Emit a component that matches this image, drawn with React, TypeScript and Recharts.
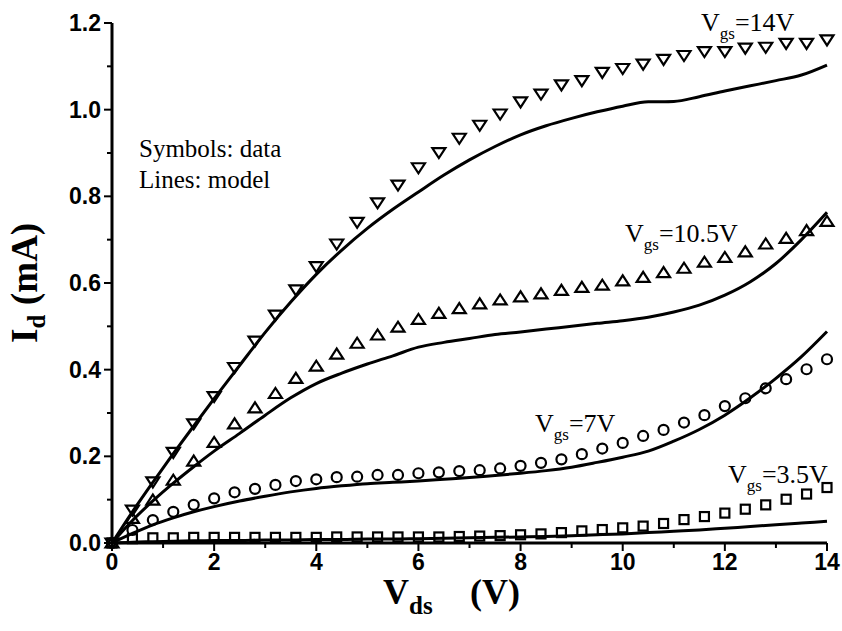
import React from 'react';
import { ComposedChart, Line, Scatter, XAxis, YAxis } from 'recharts';

// measured points (symbols), Vds step 0.4 V
const vdsData = [
  0, 0.4, 0.8, 1.2, 1.6, 2.0, 2.4, 2.8, 3.2, 3.6, 4.0, 4.4, 4.8, 5.2, 5.6, 6.0, 6.4, 6.8,
  7.2, 7.6, 8.0, 8.4, 8.8, 9.2, 9.6, 10.0, 10.4, 10.8, 11.2, 11.6, 12.0, 12.4, 12.8, 13.2, 13.6, 14.0,
];
const data35 = [
  0, 0.010, 0.012, 0.012, 0.013, 0.013, 0.013, 0.013, 0.013, 0.013, 0.013, 0.014, 0.014, 0.014, 0.014, 0.014, 0.014, 0.015,
  0.016, 0.017, 0.019, 0.021, 0.024, 0.028, 0.031, 0.035, 0.039, 0.045, 0.054, 0.061, 0.069, 0.078, 0.088, 0.101, 0.113, 0.128,
];
const data7 = [
  0, 0.030, 0.053, 0.072, 0.088, 0.103, 0.117, 0.125, 0.134, 0.143, 0.147, 0.152, 0.153, 0.157, 0.157, 0.161, 0.163, 0.166,
  0.168, 0.172, 0.178, 0.185, 0.193, 0.205, 0.218, 0.231, 0.247, 0.261, 0.278, 0.295, 0.316, 0.334, 0.357, 0.378, 0.401, 0.424,
];
const data105 = [
  0, 0.057, 0.099, 0.145, 0.189, 0.232, 0.275, 0.312, 0.345, 0.380, 0.408, 0.436, 0.461, 0.480, 0.498, 0.516, 0.530, 0.541,
  0.552, 0.561, 0.568, 0.575, 0.583, 0.590, 0.595, 0.605, 0.613, 0.624, 0.634, 0.648, 0.659, 0.672, 0.690, 0.703, 0.721, 0.742,
];
const data14 = [
  0, 0.076, 0.141, 0.209, 0.275, 0.338, 0.405, 0.466, 0.526, 0.584, 0.638, 0.690, 0.740, 0.785, 0.826, 0.866, 0.901, 0.934,
  0.964, 0.990, 1.018, 1.036, 1.057, 1.067, 1.086, 1.095, 1.105, 1.116, 1.125, 1.134, 1.134, 1.142, 1.144, 1.153, 1.153, 1.161,
];

// model curves (lines)
const vdsModel = [
  0, 0.4, 0.8, 1.2, 1.6, 2, 2.5, 3, 3.5, 4, 4.5, 5, 5.5, 6, 6.5, 7, 7.5, 8, 8.5, 9, 9.5, 10, 10.5, 11, 11.5, 12, 12.5, 13, 13.5, 14,
];
const model35 = [
  0, 0.002, 0.003, 0.004, 0.005, 0.006, 0.006, 0.007, 0.007, 0.008, 0.008, 0.009, 0.009, 0.010, 0.011,
  0.012, 0.013, 0.014, 0.015, 0.017, 0.019, 0.021, 0.024, 0.027, 0.030, 0.034, 0.038, 0.042, 0.046, 0.050,
];
const model7 = [
  0, 0.022, 0.042, 0.058, 0.072, 0.084, 0.097, 0.108, 0.118, 0.126, 0.132, 0.137, 0.140, 0.143, 0.147,
  0.151, 0.156, 0.161, 0.167, 0.175, 0.186, 0.198, 0.212, 0.235, 0.262, 0.295, 0.335, 0.380, 0.430, 0.488,
];
const model105 = [
  0, 0.052, 0.097, 0.138, 0.176, 0.212, 0.253, 0.295, 0.335, 0.368, 0.392, 0.413, 0.432, 0.452, 0.463,
  0.472, 0.481, 0.487, 0.494, 0.500, 0.507, 0.513, 0.521, 0.533, 0.549, 0.572, 0.603, 0.645, 0.700, 0.763,
];
const model14 = [
  0, 0.072, 0.140, 0.206, 0.270, 0.333, 0.410, 0.486, 0.556, 0.620, 0.676, 0.726, 0.770, 0.810, 0.849,
  0.884, 0.915, 0.942, 0.963, 0.980, 0.995, 1.008, 1.018, 1.019, 1.030, 1.043, 1.055, 1.067, 1.080, 1.103,
];

const xTicks = [0, 1, 2, 3, 4, 5, 6, 7, 8, 9, 10, 11, 12, 13, 14];
const yTicks = [0, 0.1, 0.2, 0.3, 0.4, 0.5, 0.6, 0.7, 0.8, 0.9, 1.0, 1.1, 1.2];
const yMajor = ['0.0', '0.2', '0.4', '0.6', '0.8', '1.0', '1.2'];

const pts = (xs: number[], ys: number[]) => xs.map((x, i) => ({ x, y: ys[i] }));

const SANS = '"Liberation Sans", Arial, sans-serif';
const SERIF = '"Liberation Serif", "Times New Roman", serif';

const XTick = (props: any) => {
  const { x, y, payload } = props;
  const major = payload.value % 2 === 0;
  return (
    <g>
      <line x1={x} y1={y} x2={x} y2={y + (major ? 8 : 5)} stroke="#000" strokeWidth={2} />
      {major && (
        <text x={x} y={y + 27} textAnchor="middle" fontFamily={SANS} fontWeight="bold" fontSize={23} fill="#000">
          {payload.value}
        </text>
      )}
    </g>
  );
};

const YTick = (props: any) => {
  const { x, y, payload } = props;
  const label = payload.value.toFixed(1);
  const major = yMajor.includes(label);
  return (
    <g>
      <line x1={x} y1={y} x2={x - (major ? 8 : 5)} y2={y} stroke="#000" strokeWidth={2} />
      {major && (
        <text x={x - 11} y={y + 8} textAnchor="end" fontFamily={SANS} fontWeight="bold" fontSize={23} fill="#000">
          {label}
        </text>
      )}
    </g>
  );
};

const mk = { fill: 'none', stroke: '#000', strokeWidth: 2.2 };

const TriDown = ({ cx, cy }: any) => (
  <path d={`M${cx - 6.5},${cy - 4.5} L${cx + 6.5},${cy - 4.5} L${cx},${cy + 5.5} Z`} {...mk} />
);
const TriUp = ({ cx, cy }: any) => (
  <path d={`M${cx - 6.5},${cy + 4.5} L${cx + 6.5},${cy + 4.5} L${cx},${cy - 5.5} Z`} {...mk} />
);
const Circ = ({ cx, cy }: any) => <circle cx={cx} cy={cy} r={5} {...mk} />;
const Sq = ({ cx, cy }: any) => <rect x={cx - 4.5} y={cy - 4.5} width={9} height={9} {...mk} />;

const Vgs = ({ x, y, v }: { x: number; y: number; v: string }) => (
  <text x={x} y={y} fontFamily={SERIF} fontSize={26} fill="#000">
    V<tspan dy={8} fontSize={17}>gs</tspan>
    <tspan dy={-8}>={v}</tspan>
  </text>
);

export default function App() {
  const lines = [model35, model7, model105, model14];
  return (
    <div style={{ position: 'absolute', left: 0, top: 0, width: 842, height: 631, background: '#fff' }}>
      <ComposedChart width={842} height={631} margin={{ top: 23, right: 15, bottom: 28, left: 52 }}>
        <XAxis
          type="number"
          dataKey="x"
          domain={[0, 14]}
          ticks={xTicks}
          interval={0}
          height={60}
          tickSize={0}
          tickMargin={0}
          tickLine={false}
          axisLine={{ stroke: '#000', strokeWidth: 3 }}
          tick={<XTick />}
        />
        <YAxis
          type="number"
          dataKey="y"
          domain={[0, 1.2]}
          ticks={yTicks}
          interval={0}
          width={60}
          tickSize={0}
          tickMargin={0}
          tickLine={false}
          axisLine={{ stroke: '#000', strokeWidth: 3 }}
          tick={<YTick />}
        />
        {lines.map((m, i) => (
          <Line
            key={i}
            data={pts(vdsModel, m)}
            dataKey="y"
            type="monotone"
            stroke="#000"
            strokeWidth={3}
            dot={false}
            isAnimationActive={false}
          />
        ))}
        <Scatter data={pts(vdsData, data35)} dataKey="y" shape={<Sq />} isAnimationActive={false} />
        <Scatter data={pts(vdsData, data7)} dataKey="y" shape={<Circ />} isAnimationActive={false} />
        <Scatter data={pts(vdsData, data105)} dataKey="y" shape={<TriUp />} isAnimationActive={false} />
        <Scatter data={pts(vdsData, data14)} dataKey="y" shape={<TriDown />} isAnimationActive={false} />
      </ComposedChart>
      <svg width={842} height={631} style={{ position: 'absolute', left: 0, top: 0, pointerEvents: 'none' }}>
        <text x={139} y={157} fontFamily={SERIF} fontSize={25} fill="#000">Symbols: data</text>
        <text x={139} y={188} fontFamily={SERIF} fontSize={25} fill="#000">Lines: model</text>
        <Vgs x={701} y={31} v="14V" />
        <Vgs x={625} y={242} v="10.5V" />
        <Vgs x={535} y={432} v="7V" />
        <Vgs x={728} y={483} v="3.5V" />
        <g transform="translate(37,343) rotate(-90)">
          <text x={0} y={0} fontFamily={SERIF} fontWeight="bold" fontSize={37} fill="#000">
            I<tspan dy={8} fontSize={25}>d</tspan>
            <tspan x={38} dy={-8}>(mA)</tspan>
          </text>
        </g>
        <text x={383} y={604} fontFamily={SERIF} fontWeight="bold" fontSize={36} fill="#000">
          V<tspan dy={10} fontSize={25}>ds</tspan>
          <tspan x={470} dy={-10}>(V)</tspan>
        </text>
      </svg>
    </div>
  );
}
